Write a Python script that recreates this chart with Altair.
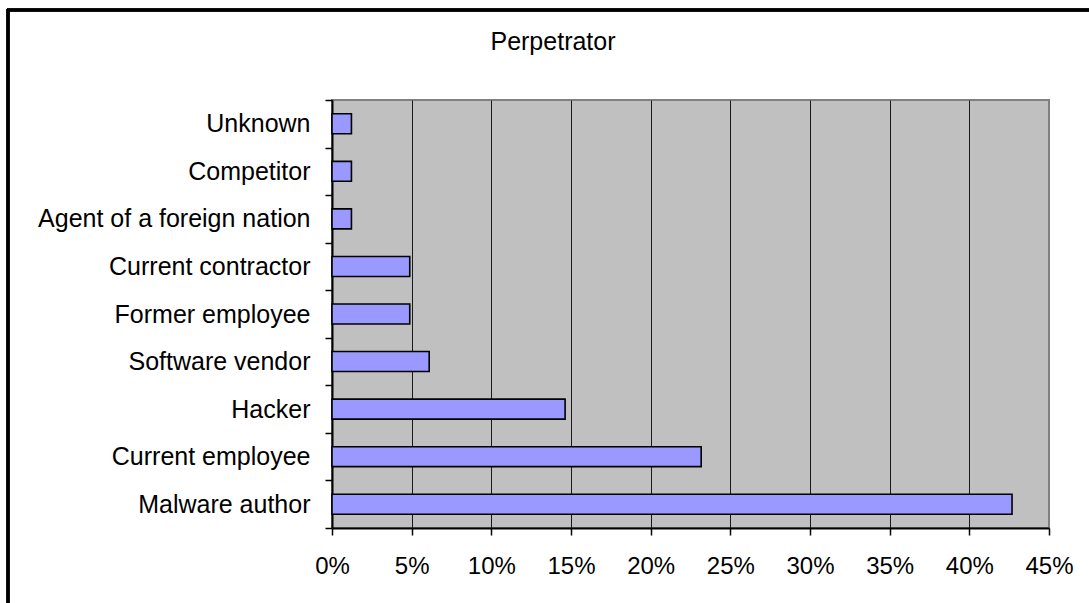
import altair as alt
import pandas as pd

# Perpetrator categories, listed top to bottom
categories = [
    "Unknown",
    "Competitor",
    "Agent of a foreign nation",
    "Current contractor",
    "Former employee",
    "Software vendor",
    "Hacker",
    "Current employee",
    "Malware author",
]
# Share of respondents naming each perpetrator
shares = [0.0122, 0.0122, 0.0122, 0.0488, 0.0488, 0.0610, 0.1463, 0.2317, 0.4268]
# Tick positions along the share axis
x_ticks = [0.0, 0.05, 0.10, 0.15, 0.20, 0.25, 0.30, 0.35, 0.40, 0.45]
chart_title = "Perpetrator"

df = pd.DataFrame({"perpetrator": categories, "share": shares})

FONT = "Liberation Sans"

bars = (
    alt.Chart(df)
    .mark_bar(
        fill="#9999FF",
        stroke="#000000",
        strokeWidth=1.6,
        height=alt.RelativeBandSize(0.42),
    )
    .encode(
        x=alt.X(
            "share:Q",
            scale=alt.Scale(domain=[0, 0.45], nice=False, zero=True),
            axis=alt.Axis(
                title=None,
                values=x_ticks,
                format=".0%",
                orient="bottom",
                labelFlush=False,
                grid=True,
                gridColor=alt.condition(
                    "datum.value >= 0.449", alt.value("#808080"), alt.value("#1a1a1a")
                ),
                gridWidth=1,
                domainColor="#000000",
                domainWidth=2,
                tickColor="#000000",
                tickWidth=1.5,
                tickSize=7,
                labelPadding=19,
                labelFont=FONT,
                labelFontSize=24,
                labelColor="#000000",
            ),
        ),
        y=alt.Y(
            "perpetrator:N",
            sort=categories,
            scale=alt.Scale(paddingInner=0, paddingOuter=0),
            axis=alt.Axis(
                title=None,
                grid=False,
                tickBand="extent",
                domainColor="#000000",
                domainWidth=2,
                tickColor="#000000",
                tickWidth=1.5,
                tickSize=7,
                labelPadding=15,
                labelFont=FONT,
                labelFontSize=25,
                labelColor="#000000",
                labelLimit=400,
            ),
        ),
    )
)

# Outer frame: top and left edges of the figure border
frame_top = (
    alt.Chart(df)
    .mark_rule(stroke="#000000", strokeWidth=2.5)
    .encode(x=alt.value(-325), x2=alt.value(800), y=alt.value(-90))
)
frame_left = (
    alt.Chart(df)
    .mark_rule(stroke="#000000", strokeWidth=2.5)
    .encode(x=alt.value(-324), y=alt.value(-91), y2=alt.value(600))
)

# Chart heading above the plot
heading = (
    alt.Chart(pd.DataFrame({"t": [chart_title]}))
    .mark_text(
        font=FONT,
        fontSize=25,
        color="#000000",
        align="center",
        baseline="alphabetic",
    )
    .encode(text="t:N", x=alt.value(221), y=alt.value(-50))
)

chart = (
    alt.layer(frame_top, frame_left, bars, heading)
    .properties(
        width=717,
        height=428,
        autosize=alt.AutoSizeParams(type="none"),
        padding={"left": 332, "top": 100, "right": 40, "bottom": 75},
        background="#FFFFFF",
    )
    .configure_view(fill="#C0C0C0", stroke="#808080", strokeWidth=2)
)

chart.save("out.html", embed_options={"renderer": "svg", "actions": False})
